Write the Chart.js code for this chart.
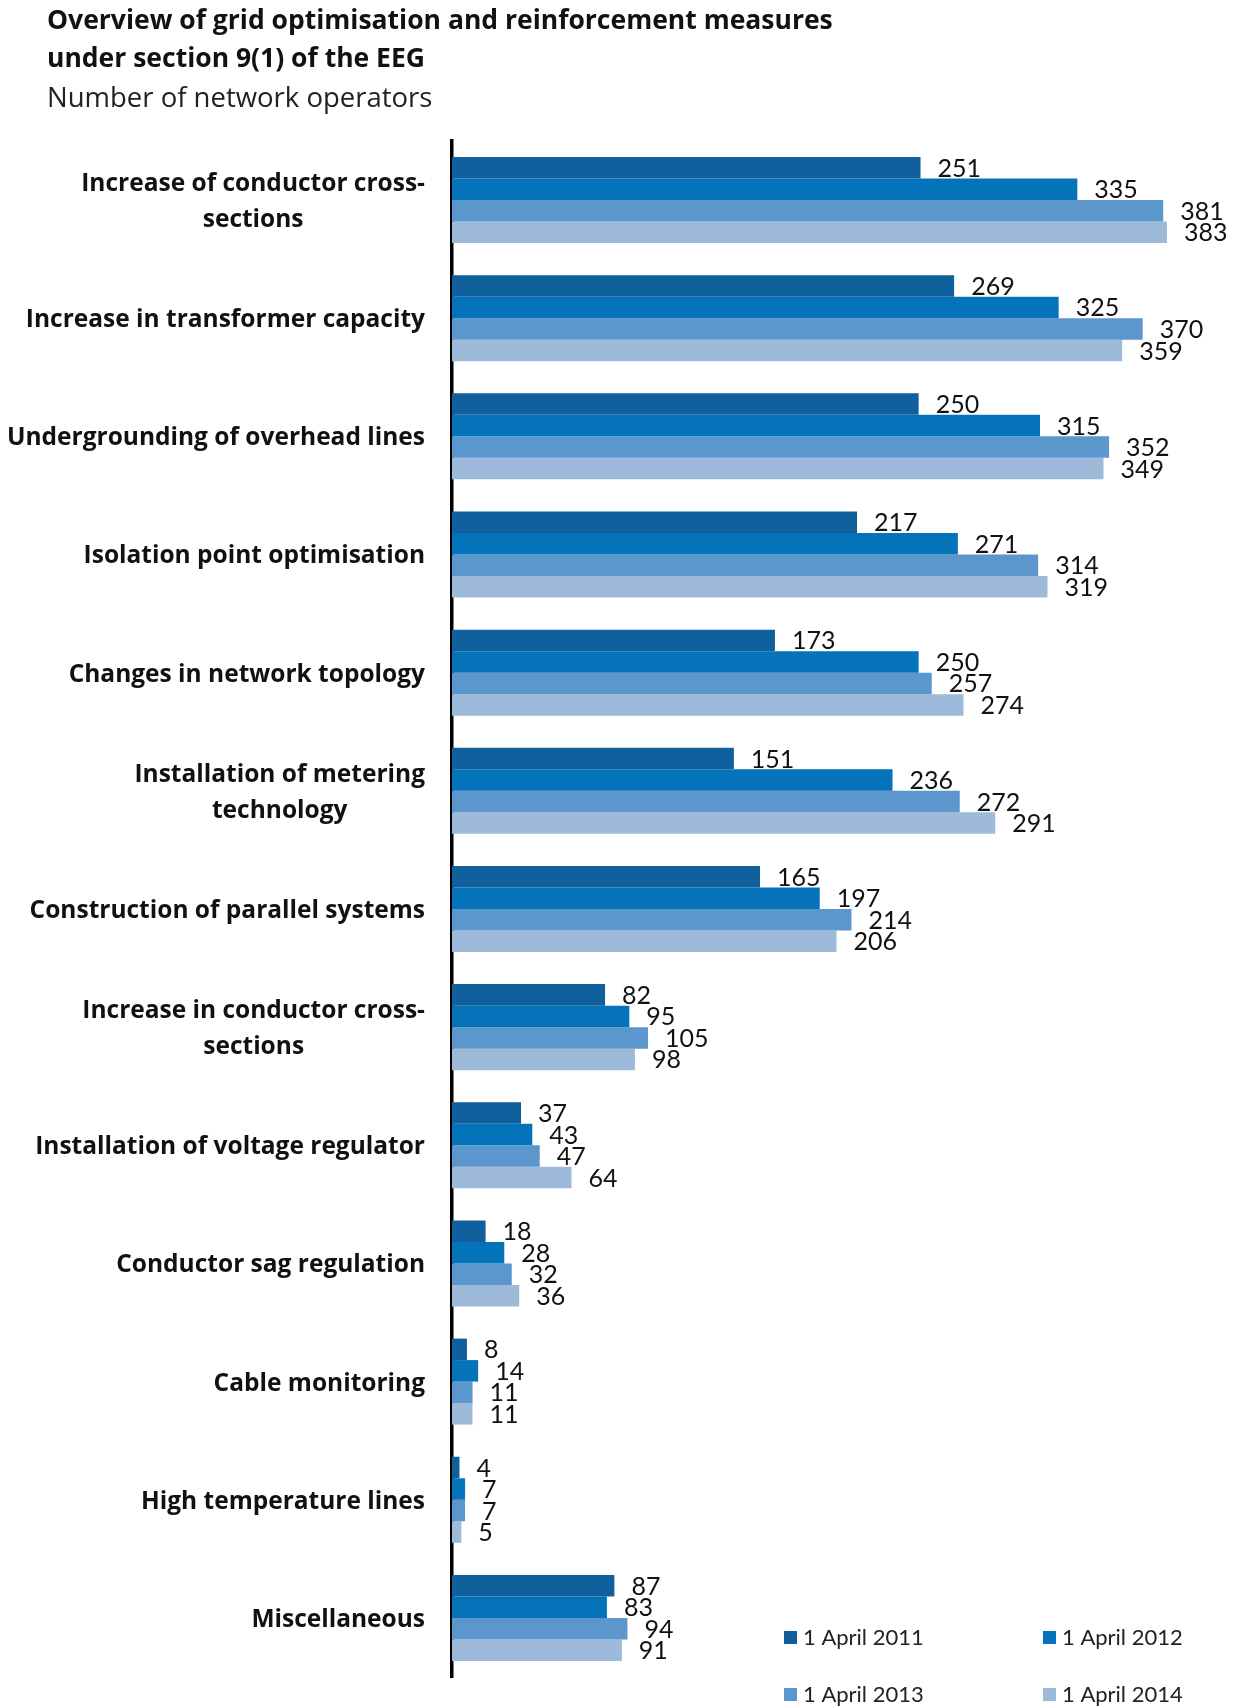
<!DOCTYPE html>
<html lang="en">
<head>
  <meta charset="UTF-8" />
  <title>Grid optimisation and reinforcement measures</title>
  <script src="https://cdn.jsdelivr.net/npm/chart.js"></script>
  <style>
    html, body {
      margin: 0;
      padding: 0;
      background: #fff;
    }
    #wrap {
      width: 1236px;
      height: 1708px;
      position: relative;
    }
  </style>
</head>
<body>
  <div id="wrap">
    <canvas id="measures"></canvas>
  </div>

  <script>
    const categories = [
      ['Increase of conductor cross-', 'sections'],
      'Increase in transformer capacity',
      'Undergrounding of overhead lines',
      'Isolation point optimisation',
      'Changes in network topology',
      ['Installation of metering', 'technology'],
      'Construction of parallel systems',
      ['Increase in conductor cross-', 'sections'],
      'Installation of voltage regulator',
      'Conductor sag regulation',
      'Cable monitoring',
      'High temperature lines',
      'Miscellaneous'
    ];

    const seriesNames = ['1 April 2011', '1 April 2012', '1 April 2013', '1 April 2014'];
    const seriesColors = ['#10609e', '#0573ba', '#5b96cc', '#9dbadb'];

    const april2011 = [251, 269, 250, 217, 173, 151, 165, 82, 37, 18, 8, 4, 87];
    const april2012 = [335, 325, 315, 271, 250, 236, 197, 95, 43, 28, 14, 7, 83];
    const april2013 = [381, 370, 352, 314, 257, 272, 214, 105, 47, 32, 11, 7, 94];
    const april2014 = [383, 359, 349, 319, 274, 291, 206, 98, 64, 36, 11, 5, 91];

    const FONT = 'Lato, "Open Sans", sans-serif';
    const HEAD_FONT = '"Open Sans", Lato, sans-serif';
    const AXIS_X = 452;   // where the y axis line sits

    // numbers at the end of each bar
    const valueLabels = {
      id: 'valueLabels',
      afterDatasetsDraw(chart) {
        const ctx = chart.ctx;
        ctx.save();
        ctx.font = '25px ' + FONT;
        ctx.fillStyle = '#111';
        ctx.textAlign = 'left';
        ctx.textBaseline = 'middle';
        chart.data.datasets.forEach((ds, i) => {
          chart.getDatasetMeta(i).data.forEach((bar, j) => {
            ctx.fillText(ds.data[j], bar.x + 17, bar.y + 1);
          });
        });
        ctx.restore();
      }
    };

    // category names: block right-aligned to the axis, lines centred inside the block
    const categoryLabels = {
      id: 'categoryLabels',
      afterDraw(chart) {
        const ctx = chart.ctx;
        const scale = chart.scales.y;
        ctx.save();
        ctx.font = 'bold 24.5px ' + HEAD_FONT;
        ctx.fillStyle = '#111';
        ctx.textAlign = 'center';
        ctx.textBaseline = 'middle';
        const right = AXIS_X - 27;
        const lineH = 36;
        chart.data.labels.forEach((lbl, i) => {
          const lines = Array.isArray(lbl) ? lbl : [lbl];
          const w = Math.max(...lines.map(l => ctx.measureText(l).width));
          const y0 = scale.getPixelForTick(i) + 2 - (lines.length - 1) * lineH / 2;
          lines.forEach((l, k) => {
            ctx.fillText(l, right - w / 2, y0 + k * lineH);
          });
        });
        ctx.restore();
      }
    };

    // two-by-two legend in the lower right corner
    const cornerLegend = {
      id: 'cornerLegend',
      afterDraw(chart) {
        const ctx = chart.ctx;
        const cols = [784, 1043];
        const rows = [1637, 1694];
        ctx.save();
        ctx.font = '22px ' + FONT;
        ctx.textAlign = 'left';
        ctx.textBaseline = 'middle';
        chart.data.datasets.forEach((ds, i) => {
          const x = cols[i % 2];
          const y = rows[Math.floor(i / 2)];
          ctx.fillStyle = ds.backgroundColor;
          ctx.fillRect(x, y - 6, 13, 13);
          ctx.fillStyle = '#222';
          ctx.fillText(ds.label, x + 19, y + 1);
        });
        ctx.restore();
      }
    };

    const seriesData = [april2011, april2012, april2013, april2014];

    new Chart(document.getElementById('measures'), {
      type: 'bar',
      data: {
        labels: categories,
        datasets: seriesData.map((d, i) => ({
          label: seriesNames[i],
          data: d,
          backgroundColor: seriesColors[i],
          borderWidth: 0,
          barPercentage: 1,
          categoryPercentage: 0.728
        }))
      },
      options: {
        indexAxis: 'y',
        responsive: true,
        maintainAspectRatio: false,
        animation: false,
        layout: {
          padding: { left: 47, right: 0, top: 2, bottom: 31 }
        },
        scales: {
          x: {
            display: false,
            min: 0,
            max: 420
          },
          y: {
            grid: { display: false, drawTicks: false },
            border: { display: true, color: '#000', width: 3.5 },
            ticks: { display: false },
            afterFit(scale) {
              scale.width = AXIS_X - 47;
            }
          }
        },
        plugins: {
          legend: { display: false },
          tooltip: { enabled: false },
          title: {
            display: true,
            align: 'start',
            text: ['Overview of grid optimisation and reinforcement measures', 'under section 9(1) of the EEG'],
            color: '#111',
            font: { family: HEAD_FONT, size: 26.5, weight: 'bold', lineHeight: 1.434 },
            padding: { top: 0, bottom: 0 }
          },
          subtitle: {
            display: true,
            align: 'start',
            text: 'Number of network operators',
            color: '#222',
            font: { family: HEAD_FONT, size: 27.5, weight: 'normal', lineHeight: 1.38 },
            padding: { top: 2, bottom: 23 }
          }
        }
      },
      plugins: [valueLabels, categoryLabels, cornerLegend]
    });
  </script>
</body>
</html>
